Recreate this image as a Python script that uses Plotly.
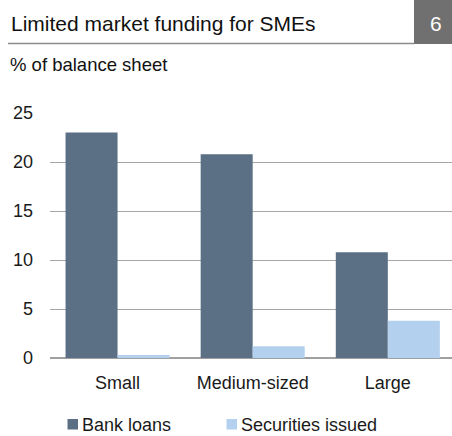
import plotly.graph_objects as go

categories = ["Small", "Medium-sized", "Large"]
bank_loans = [23.0, 20.8, 10.8]
securities_issued = [0.3, 1.2, 3.8]
series_names = ["Bank loans", "Securities issued"]
y_ticks = [0, 5, 10, 15, 20, 25]

colors = ["#5B6F85", "#B4D0EF"]
font = "Liberation Sans, Arial, sans-serif"

W, H = 452, 436
ML, MR, MT, MB = 50, 0, 113, 78
PW, PH = W - ML - MR, H - MT - MB

fig = go.Figure()
for name, vals, col in zip(series_names, [bank_loans, securities_issued], colors):
    fig.add_trace(go.Bar(x=categories, y=vals, name=name, marker_color=col,
                         marker_line_width=0, showlegend=False))

fig.update_layout(
    width=W, height=H,
    margin=dict(l=ML, r=MR, t=MT, b=MB),
    paper_bgcolor="white", plot_bgcolor="white",
    barmode="group", bargap=0.23, bargroupgap=0,
    font=dict(family=font, size=18, color="#1a1a1a"),
    xaxis=dict(range=[-0.5, 2.475], showgrid=False, showline=False, ticks="",
               ticklabelstandoff=12, tickfont=dict(size=18)),
    yaxis=dict(range=[0, 25], tickvals=y_ticks, showgrid=True, gridcolor="#A6A6A6",
               gridwidth=1, zeroline=True, zerolinecolor="#A0A0A0", zerolinewidth=1.5,
               showline=False, ticks="", ticklabelstandoff=16, tickfont=dict(size=18)),
)


def px_x(x):
    return (x - ML) / PW


def px_y(y):
    return (H - MB - y) / PH


# Header
fig.add_shape(type="rect", xref="paper", yref="paper", x0=px_x(414), x1=px_x(452),
              y0=px_y(44), y1=px_y(0), fillcolor="#707070", line_width=0, layer="above")
fig.add_shape(type="line", xref="paper", yref="paper", x0=px_x(8), x1=px_x(414),
              y0=px_y(43.5), y1=px_y(43.5), line=dict(color="#8C8C8C", width=1.5))
fig.add_annotation(text="Limited market funding for SMEs", xref="paper", yref="paper",
                   x=px_x(9), y=px_y(23), xanchor="left", yanchor="middle",
                   showarrow=False, font=dict(size=21, color="#111111"))
fig.add_annotation(text="6", xref="paper", yref="paper",
                   x=px_x(435.5), y=px_y(23), xanchor="center", yanchor="middle",
                   showarrow=False, font=dict(size=21, color="white"))
fig.add_annotation(text="% of balance sheet", xref="paper", yref="paper",
                   x=px_x(8), y=px_y(64.5), xanchor="left", yanchor="middle",
                   showarrow=False, font=dict(size=18.5, color="#111111"))

# Legend (custom)
leg_items = [(67.5, series_names[0], colors[0]), (226.5, series_names[1], colors[1])]
for x0, name, col in leg_items:
    fig.add_shape(type="rect", xref="paper", yref="paper", x0=px_x(x0), x1=px_x(x0 + 10.5),
                  y0=px_y(429.5), y1=px_y(419), fillcolor=col, line_width=0)
    fig.add_annotation(text=name, xref="paper", yref="paper", x=px_x(x0 + 12), y=px_y(424.5),
                       xanchor="left", yanchor="middle", showarrow=False,
                       font=dict(size=18, color="#1a1a1a"))

fig.write_html("out.html", config={"displayModeBar": False},
               post_script="document.body.style.margin='0';")
